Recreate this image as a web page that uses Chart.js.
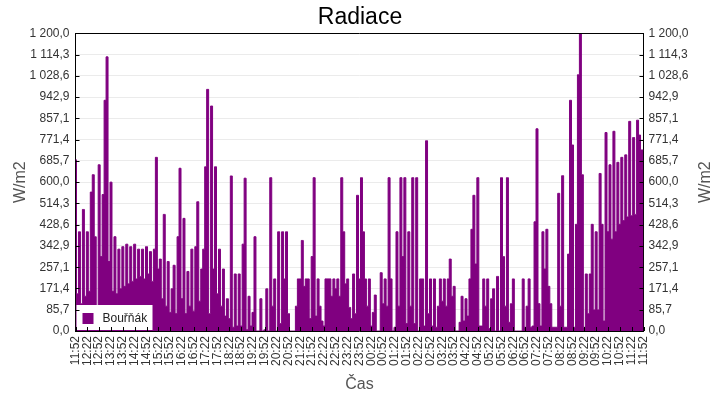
<!DOCTYPE html>
<html><head><meta charset="utf-8">
<script src="https://cdn.jsdelivr.net/npm/chart.js@4.4.1/dist/chart.umd.min.js"></script>
<style>html,body{margin:0;padding:0;background:#fff;}</style>
</head><body>
<canvas id="c" width="720" height="400"></canvas>
<script>
const chartTitle = "Radiace";
const seriesName = "Bouřňák";
const xTitle = "Čas";
const yTitle = "W/m2";
const timeLabels = ["11:52","12:22","12:52","13:22","13:52","14:22","14:52","15:22","15:52","16:22","16:52","17:22","17:52","18:22","18:52","19:22","19:52","20:22","20:52","21:22","21:52","22:22","22:52","23:22","23:52","00:22","00:52","01:22","01:52","02:22","02:52","03:22","03:52","04:22","04:52","05:22","05:52","06:22","06:52","07:22","07:52","08:22","08:52","09:22","09:52","10:22","10:52","11:22","11:52"];
const yTickLabels = ["0,0","85,7","171,4","257,1","342,9","428,6","514,3","600,0","685,7","771,4","857,1","942,9","1 028,6","1 114,3","1 200,0"];
const labelStepMinutes = 30;
const sampleStepMinutes = 5;
const radiation = [
690,150,400,110,490,140,400,160,560,630,
380,90,670,300,550,930,1105,280,600,160,
380,150,330,170,340,180,350,190,340,200,
350,210,330,220,330,210,340,230,320,200,
330,700,250,290,130,470,100,280,
75,170,265,70,380,656,130,454,70,240,
100,330,80,340,521,120,250,330,662,974,
70,907,250,662,150,330,100,250,60,130,
50,625,15,230,20,230,20,350,616,5,
140,20,75,380,0,0,130,0,
5,170,0,618,100,210,0,400,30,400,
210,400,70,0,0,0,100,210,210,365,
180,210,210,50,300,618,60,210,100,40,
20,210,210,210,140,210,170,210,140,618,
400,190,210,95,50,230,70,547,210,618,
400,210,100,210,20,75,145,0,0,235,
110,210,100,618,210,0,15,400,100,618,
300,618,30,400,100,618,30,618,0,210,
210,20,767,70,210,20,210,15,100,210,
120,210,100,210,290,140,180,0,0,35,
140,40,130,60,210,410,547,270,618,20,
20,210,100,210,10,130,170,0,220,0,
618,300,100,618,35,110,210,0,0,0,
0,210,15,100,210,15,20,440,815,110,
20,400,250,410,180,110,15,
15,15,555,100,626,15,15,310,930,750,
15,430,1033,1200,630,15,230,70,230,430,
85,400,85,635,430,40,800,400,670,370,
805,400,680,430,700,445,710,460,845,465,
780,470,850,790,730,730
];

const FONT = "'Liberation Sans', Arial, sans-serif";
const PURPLE = "#800080";

const points = radiation.map((v, i) => ({ x: i * sampleStepMinutes, y: v }));
const yTickValues = yTickLabels.map(s => parseFloat(s.replace(/\s/g, "").replace(",", ".")));
const xMax = (timeLabels.length - 1) * labelStepMinutes;

const framePlugin = {
  id: "frame",
  afterDatasetsDraw(chart) {
    const { ctx, chartArea: a, scales } = chart;
    ctx.save();
    // legend background + entry
    ctx.fillStyle = "#fff";
    ctx.fillRect(a.left + 1, a.bottom - 26, 76, 25);
    ctx.fillStyle = PURPLE;
    ctx.fillRect(a.left + 7, a.bottom - 18, 11, 11);
    ctx.fillStyle = "#222";
    ctx.font = "12px " + FONT;
    ctx.textBaseline = "middle";
    ctx.textAlign = "left";
    ctx.fillText(seriesName, a.left + 27, a.bottom - 12);
    // frame and inward ticks
    ctx.strokeStyle = "#000";
    ctx.lineWidth = 1;
    ctx.beginPath();
    const top = Math.floor(a.top) + 0.5;
    ctx.moveTo(a.left, top); ctx.lineTo(a.right, top);
    scales.y.ticks.forEach(t => {
      const y = Math.round(scales.y.getPixelForValue(t.value)) + 0.5;
      ctx.moveTo(a.left, y); ctx.lineTo(a.left + 4, y);
      ctx.moveTo(a.right - 4, y); ctx.lineTo(a.right, y);
    });
    scales.x.ticks.forEach(t => {
      const x = Math.round(scales.x.getPixelForValue(t.value)) + 0.5;
      ctx.moveTo(x, a.bottom); ctx.lineTo(x, a.bottom - 4);
    });
    ctx.stroke();
    ctx.restore();
  },
  afterDraw(chart) {
    const { ctx, chartArea: a } = chart;
    ctx.save();
    ctx.translate(706, (a.top + a.bottom) / 2);
    ctx.rotate(-Math.PI / 2);
    ctx.fillStyle = "#555";
    ctx.font = "16px " + FONT;
    ctx.textAlign = "center";
    ctx.textBaseline = "middle";
    ctx.fillText(yTitle, 0, 0);
    ctx.restore();
  }
};

new Chart(document.getElementById("c"), {
  type: "line",
  data: {
    datasets: [{
      label: seriesName,
      data: points,
      borderColor: PURPLE,
      backgroundColor: PURPLE,
      borderWidth: 1,
      fill: "origin",
      pointRadius: 0,
      stepped: "middle"
    }]
  },
  options: {
    responsive: false,
    animation: false,
    devicePixelRatio: 1,
    layout: { padding: 0 },
    plugins: {
      legend: { display: false },
      tooltip: { enabled: false },
      title: {
        display: true,
        text: chartTitle,
        color: "#000",
        font: { family: FONT, size: 23, weight: "normal", lineHeight: 1.2 },
        padding: { top: 4, bottom: 1.7 }
      }
    },
    scales: {
      x: {
        type: "linear",
        min: 0,
        max: xMax,
        afterBuildTicks: s => { s.ticks = timeLabels.map((_, i) => ({ value: i * labelStepMinutes })); },
        afterFit: s => { s.height = 69; },
        ticks: {
          autoSkip: false,
          maxRotation: 90,
          minRotation: 90,
          padding: 5,
          color: "#333",
          font: { family: FONT, size: 12 },
          callback: (v, i) => timeLabels[i]
        },
        grid: { drawOnChartArea: false, drawTicks: false },
        border: { color: "#000", width: 1 },
        title: { display: true, text: xTitle, color: "#555", font: { family: FONT, size: 16 }, padding: { top: 0, bottom: 6 } }
      },
      y: {
        type: "linear",
        position: "left",
        min: 0,
        max: 1200,
        afterBuildTicks: s => { s.ticks = yTickValues.map(v => ({ value: v })); },
        afterFit: s => { s.width = 75.5; },
        ticks: { padding: 6, color: "#333", font: { family: FONT, size: 12 }, callback: (v, i) => yTickLabels[i] },
        grid: { color: "#ebebeb", drawTicks: false },
        border: { color: "#000", width: 1 },
        title: { display: true, text: yTitle, color: "#555", font: { family: FONT, size: 16 }, padding: { top: 11, bottom: 0 } }
      },
      y2: {
        type: "linear",
        position: "right",
        min: 0,
        max: 1200,
        afterBuildTicks: s => { s.ticks = yTickValues.map(v => ({ value: v })); },
        afterFit: s => { s.width = 76.5; },
        ticks: { padding: 5, color: "#333", font: { family: FONT, size: 12 }, callback: (v, i) => yTickLabels[i] },
        grid: { drawOnChartArea: false, drawTicks: false },
        border: { color: "#000", width: 1 }
      }
    }
  },
  plugins: [framePlugin]
});
</script>
</body></html>
